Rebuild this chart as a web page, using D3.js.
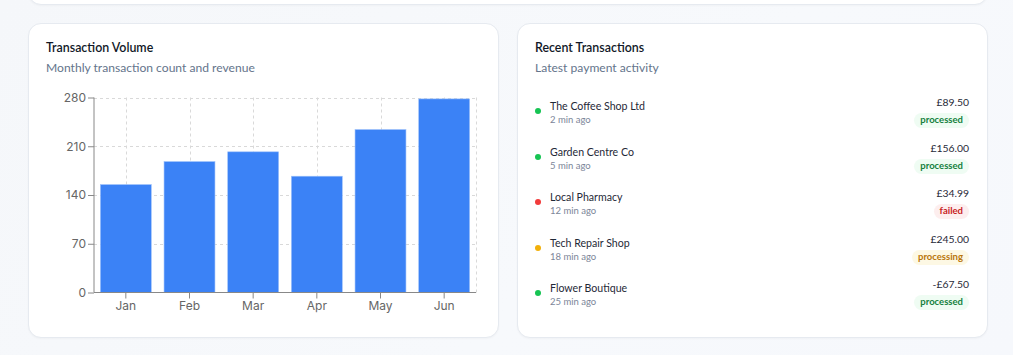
<!DOCTYPE html>
<html>
<head>
<meta charset="utf-8">
<script src="https://cdn.jsdelivr.net/npm/d3@7"></script>
<style>
  html, body { margin: 0; padding: 0; }
  body {
    width: 1013px; height: 355px; overflow: hidden; position: relative;
    background: linear-gradient(135deg, #f5f7fa 0%, #f7f9fc 60%, #f6f8fc 100%);
    font-family: Lato, "Segoe UI", sans-serif;
  }
  .card {
    position: absolute; background: #fff; border: 1px solid #e6eaf0;
    border-radius: 13px; box-sizing: border-box;
    box-shadow: 0 1px 2px rgba(15, 23, 42, 0.03);
  }
  .title { position: absolute; left: 17px; top: 16px; font-size: 12.4px; font-weight: 600; color: #111827; }
  .sub { position: absolute; left: 17px; top: 36px; font-size: 12.1px; color: #64748b; }
  .row { position: absolute; left: 0; right: 0; height: 40px; }
  .dot { position: absolute; left: 17px; width: 6px; height: 6px; border-radius: 50%; top: 14px; }
  .name { position: absolute; left: 32px; top: 6px; font-size: 10.6px; color: #1f2937; }
  .time { position: absolute; left: 32px; top: 20px; font-size: 9.5px; color: #7c8699; }
  .amt { position: absolute; right: 18px; top: 2px; font-size: 10.4px; color: #1f2937; }
  .badge { position: absolute; right: 18px; top: 19px; font-size: 9.5px; font-weight: 700;
    padding: 1px 6px 2px; border-radius: 8px; line-height: 12px; }
  svg text { font-family: "Segoe UI", Inter, "Noto Sans", sans-serif; }
</style>
</head>
<body>
<script>
// chart data
const months = ['Jan', 'Feb', 'Mar', 'Apr', 'May', 'Jun'];
const txCounts = [155, 188, 202, 167, 234, 278];
const yTicks = [0, 70, 140, 210, 280];

// recent transactions
const merchants = ['The Coffee Shop Ltd', 'Garden Centre Co', 'Local Pharmacy', 'Tech Repair Shop', 'Flower Boutique'];
const times = ['2 min ago', '5 min ago', '12 min ago', '18 min ago', '25 min ago'];
const amounts = ['£89.50', '£156.00', '£34.99', '£245.00', '-£67.50'];
const statuses = ['processed', 'processed', 'failed', 'processing', 'processed'];

const statusStyle = {
  processed: { dot: '#16c453', bg: '#effcf3', fg: '#15803d' },
  failed: { dot: '#f23b3b', bg: '#fdeeee', fg: '#c81e1e' },
  processing: { dot: '#f2b00a', bg: '#fdf8e4', fg: '#b9750b' },
};

const body = d3.select('body');

// partially visible card on top
body.append('div').attr('class', 'card')
  .style('left', '28px').style('top', '-40px').style('width', '960px').style('height', '45px');

// left card: bar chart
const left = body.append('div').attr('class', 'card')
  .style('left', '28px').style('top', '23px').style('width', '471px').style('height', '315px');
left.append('div').attr('class', 'title').text('Transaction Volume');
left.append('div').attr('class', 'sub').text('Monthly transaction count and revenue');

const svg = left.append('svg')
  .attr('width', 471).attr('height', 315)
  .style('position', 'absolute').style('left', '-1px').style('top', '-1px');

// plot area in card coords (page coords minus 28,23)
const plot = { left: 94 - 28, right: 476 - 28, top: 97.5 - 23, bottom: 292.5 - 23 };

const x = d3.scaleBand().domain(months).range([plot.left, plot.right])
  .paddingInner(0.2).paddingOuter(0.1);
const y = d3.scaleLinear().domain([0, 280]).range([plot.bottom, plot.top]);

// grid
const grid = svg.append('g').attr('stroke', '#d9d9d9').attr('stroke-dasharray', '3 3').attr('fill', 'none');
grid.selectAll('line.h').data(yTicks.filter(d => d > 0)).join('line').attr('class', 'h')
  .attr('x1', plot.left).attr('x2', plot.right)
  .attr('y1', d => Math.round(y(d)) + 0.5).attr('y2', d => Math.round(y(d)) + 0.5);
grid.selectAll('line.v').data(months).join('line').attr('class', 'v')
  .attr('x1', d => Math.round(x(d) + x.bandwidth() / 2) + 0.5)
  .attr('x2', d => Math.round(x(d) + x.bandwidth() / 2) + 0.5)
  .attr('y1', plot.top).attr('y2', plot.bottom);
grid.append('line')
  .attr('x1', plot.right + 0.5).attr('x2', plot.right + 0.5)
  .attr('y1', plot.top).attr('y2', plot.bottom);

// bars
svg.append('g').selectAll('rect').data(months).join('rect')
  .attr('x', d => x(d))
  .attr('y', (d, i) => y(txCounts[i]))
  .attr('width', x.bandwidth())
  .attr('height', (d, i) => y(0) - y(txCounts[i]))
  .attr('fill', '#3b82f6')
  .attr('stroke', '#9fc2fb').attr('stroke-width', 0.6);

// axes
const yAxis = d3.axisLeft(y).tickValues(yTicks).tickSize(6).tickPadding(2);
const gy = svg.append('g').attr('transform', `translate(${plot.left},0)`).call(yAxis);
const xAxis = d3.axisBottom(x).tickSize(6).tickPadding(3);
const gx = svg.append('g').attr('transform', `translate(0,${plot.bottom})`).call(xAxis);
[gy, gx].forEach(g => {
  g.select('.domain').attr('stroke', '#888');
  g.selectAll('.tick line').attr('stroke', '#888');
  g.selectAll('.tick text').attr('fill', '#666').style('font-size', '12px');
});
gy.select('.domain').attr('d', `M0,${plot.top}V${plot.bottom}`);
gy.selectAll('.tick line').attr('x2', -6);
gx.select('.domain').attr('d', `M${plot.left},0H${plot.right}`);

// right card: recent transactions
const right = body.append('div').attr('class', 'card')
  .style('left', '517px').style('top', '23px').style('width', '471px').style('height', '315px');
right.append('div').attr('class', 'title').text('Recent Transactions');
right.append('div').attr('class', 'sub').text('Latest payment activity');

const rowY = d3.scaleLinear().domain([0, 4]).range([93 - 23, 275 - 23]);

const rows = right.selectAll('div.row').data(merchants).join('div').attr('class', 'row')
  .style('top', (d, i) => rowY(i) + 'px');
rows.append('div').attr('class', 'dot')
  .style('background', (d, i) => statusStyle[statuses[i]].dot);
rows.append('div').attr('class', 'name').text(d => d);
rows.append('div').attr('class', 'time').text((d, i) => times[i]);
rows.append('div').attr('class', 'amt').text((d, i) => amounts[i]);
rows.append('div').attr('class', 'badge')
  .style('background', (d, i) => statusStyle[statuses[i]].bg)
  .style('color', (d, i) => statusStyle[statuses[i]].fg)
  .text((d, i) => statuses[i]);
</script>
</body>
</html>
